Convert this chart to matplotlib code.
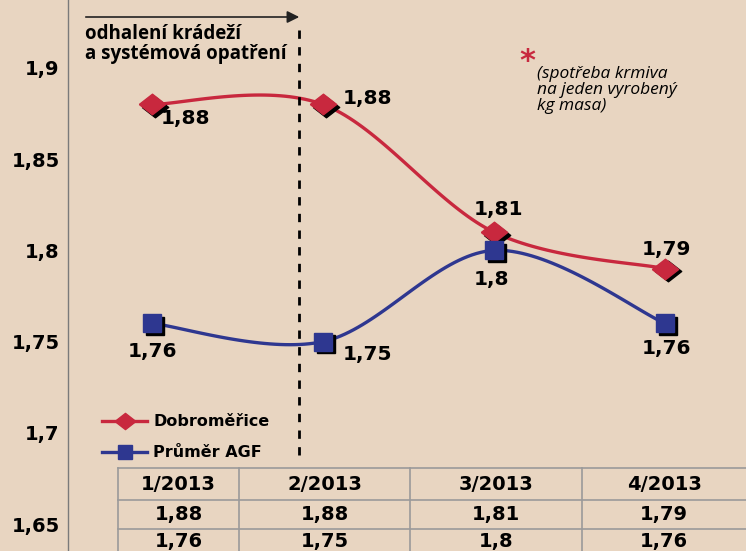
import numpy as np
import matplotlib.pyplot as plt
from matplotlib.lines import Line2D
from matplotlib.transforms import offset_copy

months = ["1/2013", "2/2013", "3/2013", "4/2013"]
dobromerice = [1.88, 1.88, 1.81, 1.79]
prumer_agf = [1.76, 1.75, 1.80, 1.76]
y_ticks = [1.65, 1.7, 1.75, 1.8, 1.85, 1.9]

# label offsets in points (dx, dy, ha)
red_lbl = [(6, -10, "left"), (14, 4, "left"), (3, 16, "center"), (1, 14, "center")]
blue_lbl = [(0, -20, "center"), (14, -9, "left"), (-2, -21, "center"), (1, -18, "center")]

BG = "#e8d5c1"
RED = "#c8283e"
BLUE = "#2e3790"
DIAMOND = [(-1, 0), (0, 0.78), (1, 0), (0, -0.78), (-1, 0)]


def fmt(v):
    return ("%g" % v).replace(".", ",")


def excel_smooth(xs, ys, n=40):
    # bezier smoothing like the spreadsheet "smoothed line"
    P = np.column_stack([xs, ys]).astype(float)
    P = np.vstack([P[0], P, P[-1]])
    out = []
    t = np.linspace(0, 1, n)[:, None]
    for i in range(1, len(P) - 2):
        p0, p3 = P[i], P[i + 1]
        c1 = p0 + (P[i + 1] - P[i - 1]) / 6
        c2 = p3 - (P[i + 2] - P[i]) / 6
        seg = (1 - t) ** 3 * p0 + 3 * (1 - t) ** 2 * t * c1 + 3 * (1 - t) * t ** 2 * c2 + t ** 3 * p3
        out.append(seg)
    out = np.vstack(out)
    return out[:, 0], out[:, 1]


plt.rcParams["font.family"] = ["DejaVu Sans"]
fig = plt.figure(figsize=(7.46, 5.51), dpi=100, facecolor=BG)

W, H = 746, 551
ax_left = 68
ax = fig.add_axes([ax_left / W, 0, 1 - ax_left / W, 1])
ax.set_facecolor("none")
x = np.arange(len(months))
px0, pstep = 152, 171
ax.set_xlim((ax_left - px0) / pstep, (W - px0) / pstep)
y0_px, ppu = 68, 1824
ax.set_ylim(1.9 - (H - y0_px) / ppu, 1.9 + y0_px / ppu)

for s in ["top", "right", "bottom"]:
    ax.spines[s].set_visible(False)
ax.spines["left"].set_color("#7a7a7a")
ax.spines["left"].set_linewidth(1)
ax.set_xticks([])
ax.set_yticks(y_ticks)
ax.set_yticklabels([fmt(v) for v in y_ticks], fontsize=14, fontweight="bold")
ax.tick_params(axis="y", length=0, pad=6)

shadow = offset_copy(ax.transData, fig=fig, x=2.5, y=-2.5, units="dots")
for vals, col, mk, ms in [(dobromerice, RED, DIAMOND, 19), (prumer_agf, BLUE, "s", 13)]:
    sx, sy = excel_smooth(x, vals)
    ax.plot(sx, sy, color=col, lw=2.4, zorder=3)
    ax.plot(x, vals, ls="none", marker=mk, ms=ms, color="black", transform=shadow, zorder=4)
    ax.plot(x, vals, ls="none", marker=mk, ms=ms, color=col, zorder=5)

for vals, offs in [(dobromerice, red_lbl), (prumer_agf, blue_lbl)]:
    for xi, v, (dx, dy, ha) in zip(x, vals, offs):
        ax.annotate(fmt(v), (xi, v), xytext=(dx, dy), textcoords="offset points",
                    ha=ha, va="center", fontsize=14.5, fontweight="bold", zorder=6)

handles = [Line2D([], [], color=RED, lw=2.4, marker=DIAMOND, ms=15),
           Line2D([], [], color=BLUE, lw=2.4, marker="s", ms=10)]
ax.legend(handles, ["Dobroměřice", "Průměr AGF"], loc="upper left",
          bbox_to_anchor=(88 / W, 1 - 400 / H), bbox_transform=fig.transFigure,
          frameon=False, handlelength=2.8, labelspacing=1.0, handletextpad=0.4,
          prop={"size": 11.5, "weight": "bold"})

# overlay in pixel coordinates
ov = fig.add_axes([0, 0, 1, 1])
ov.set_xlim(0, W)
ov.set_ylim(H, 0)
ov.axis("off")
ov.set_facecolor("none")

ov.annotate("", xy=(302, 17), xytext=(83, 17),
            arrowprops=dict(arrowstyle="-|>", color="#222222", lw=1.2, mutation_scale=18))
ov.text(85, 44, "odhalení krádeží\na systémová opatření", fontsize=13.5, fontweight="bold",
        family=["Open Sans", "DejaVu Sans"], va="center", ha="left", linespacing=1.0)
ov.plot([299, 299], [30, 458], color="black", lw=2, ls=(0, (3, 3)))

ov.text(527, 62, "*", color=RED, fontsize=22, fontweight="bold", ha="center", va="center")
ov.text(537, 90, "(spotřeba krmiva\nna jeden vyrobený\nkg masa)", fontsize=12.5, style="italic",
        family=["Open Sans", "DejaVu Sans"], va="center", ha="left", linespacing=1.02)

# data table
col_edges = [118, 239, 410, 582, 746]
row_edges = [468, 500, 529, 560]
gc = "#9a9a9a"
for yy in row_edges[:3]:
    ov.plot([col_edges[0], W], [yy, yy], color=gc, lw=1.2)
for xx in col_edges[:4]:
    ov.plot([xx, xx], [row_edges[0], H], color=gc, lw=1.2)
rows = [months, [fmt(v) for v in dobromerice], [fmt(v) for v in prumer_agf]]
for r, row in enumerate(rows):
    cy = (row_edges[r] + row_edges[r + 1]) / 2 if r < 2 else 541
    for c, txt in enumerate(row):
        cx = (col_edges[c] + col_edges[c + 1]) / 2
        ov.text(cx, cy, txt, ha="center", va="center", fontsize=14, fontweight="bold")

fig.savefig("out.png", dpi=100, facecolor=BG)
